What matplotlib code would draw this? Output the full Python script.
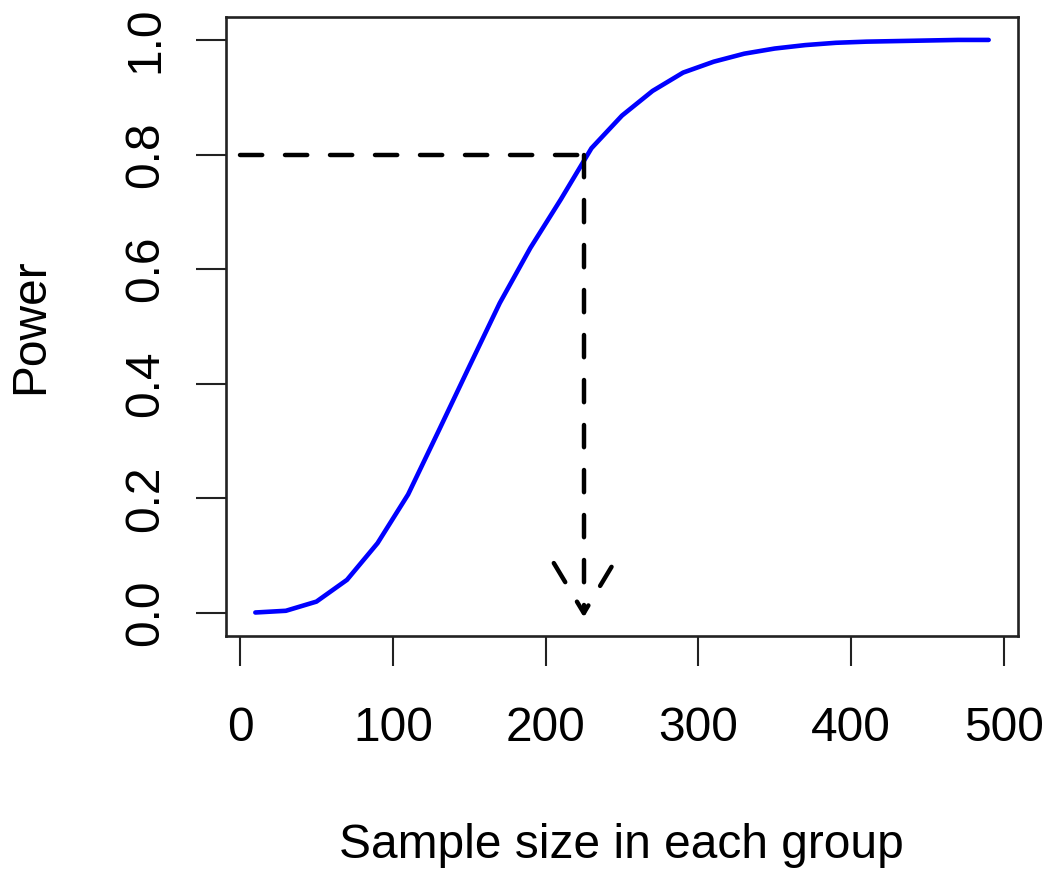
import matplotlib
matplotlib.use("Agg")
import matplotlib.pyplot as plt
import numpy as np

plt.rcParams['font.family'] = ['Liberation Sans', 'DejaVu Sans']
plt.rcParams['lines.scale_dashes'] = False

# Data
sample_size = [10, 30, 50, 70, 90, 110, 130, 150, 170, 190, 210, 230, 250,
               270, 290, 310, 330, 350, 370, 390, 410, 430, 450, 470, 490]
power = [0.001, 0.004, 0.020, 0.058, 0.122, 0.207, 0.318, 0.430, 0.541,
         0.637, 0.722, 0.811, 0.868, 0.911, 0.943, 0.962, 0.976, 0.985,
         0.991, 0.995, 0.997, 0.998, 0.999, 1.000, 1.000]
target_power = 0.8
target_n = 225
x_ticks = [0, 100, 200, 300, 400, 500]
y_ticks = [0.0, 0.2, 0.4, 0.6, 0.8, 1.0]
x_label = "Sample size in each group"
y_label = "Power"

W, H = 1050, 876
fig = plt.figure(figsize=(W / 100, H / 100), dpi=100)
ax = fig.add_axes([226 / W, 1 - 636 / H, (1018 - 226) / W, (636 - 17) / H])

FS = 34.5
ax.plot(sample_size, power, color='#0000FF', lw=3.3, solid_capstyle='round',
        solid_joinstyle='round', zorder=3)

ax.set_xlim(-9.2, 509.2)
ax.set_ylim(-0.04, 1.04)
ax.set_xticks(x_ticks)
ax.set_xticklabels([str(v) for v in x_ticks])
ax.set_yticks(y_ticks)
ax.set_yticklabels([f"{v:.1f}" for v in y_ticks], rotation=90, va='center')

for s in ax.spines.values():
    s.set_linewidth(1.9)
    s.set_color('#222222')
ax.tick_params(axis='both', direction='out', length=21.5, width=1.5,
               color='#222222', labelsize=FS, labelcolor='black')
ax.tick_params(axis='x', pad=29)
ax.tick_params(axis='y', pad=20)

fig.text(31 / W, 1 - 326 / H, y_label, rotation=90, ha='center', va='center',
         fontsize=FS)
fig.text(621 / W, 1 - 845 / H, x_label, ha='center', va='center', fontsize=FS)

# dashed guide lines and arrow
dash = (0, (16.0, 16.4))
lw_d = 3.2
ax.plot([0, target_n], [target_power, target_power], color='black', lw=lw_d,
        linestyle=dash, dash_capstyle='round', zorder=4)
ax.plot([target_n, target_n], [target_power, 0], color='black', lw=lw_d,
        linestyle=dash, dash_capstyle='round', zorder=4)

# arrow head (open, dashed) built from display offsets
fig.canvas.draw()
tip_disp = ax.transData.transform((target_n, 0.0))
inv = ax.transData.inverted()
left_end = inv.transform((tip_disp[0] - 30, tip_disp[1] + 50))
right_end = inv.transform((tip_disp[0] + 30, tip_disp[1] + 50))
ax.plot([left_end[0], target_n, right_end[0]],
        [left_end[1], 0.0, right_end[1]], color='black', lw=lw_d,
        linestyle=dash, dash_capstyle='round', dash_joinstyle='round', zorder=4)

fig.savefig("out.png", dpi=100, facecolor='white')
